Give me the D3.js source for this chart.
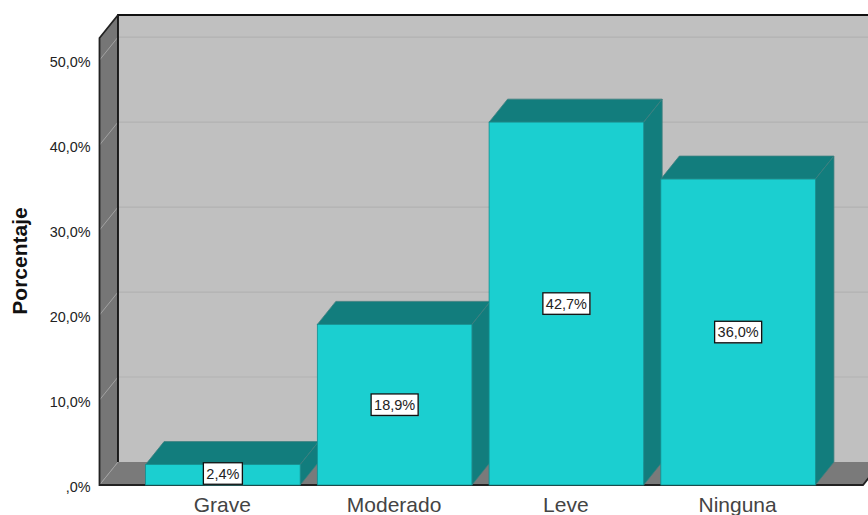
<!DOCTYPE html>
<html><head><meta charset="utf-8">
<script src="https://cdn.jsdelivr.net/npm/d3@7"></script>
<style>html,body{margin:0;padding:0;background:#fff;overflow:hidden}svg{display:block}</style>
</head><body><svg id="c" width="868" height="515"></svg>
<script>
const categories = ["Grave","Moderado","Leve","Ninguna"];
const values = [2.4,18.9,42.7,36.0];
const valueLabels = ["2,4%","18,9%","42,7%","36,0%"];
const tickValues = [0,10,20,30,40,50];
const tickLabels = [",0%","10,0%","20,0%","30,0%","40,0%","50,0%"];
const yTitle = "Porcentaje";

const svg = d3.select("#c");
const DX = 18.5, DY = -23;
const y = d3.scaleLinear().domain([0,52.6]).range([485,38]);
const x = d3.scaleBand().domain(categories).range([137,824]).paddingInner(0.1).paddingOuter(0.05);
const L = 99.5, R = 863;
const Y0 = y(0), YT = y(52.6);
const poly = pts => pts.map(p=>p.join(",")).join(" ");
const FF = "'Liberation Sans',Arial,sans-serif";

// walls
svg.append("polygon").attr("points",poly([[L+DX,YT+DY],[R+DX,YT+DY],[R+DX,Y0+DY],[L+DX,Y0+DY]])).attr("fill","#c0c0c0");
svg.append("polygon").attr("points",poly([[L,YT],[L+DX,YT+DY],[L+DX,Y0+DY],[L,Y0]])).attr("fill","#767676");
svg.append("polygon").attr("points",poly([[L,Y0],[L+DX,Y0+DY],[R+DX,Y0+DY],[R,Y0]])).attr("fill","#7a7a7a");

// gridlines
tickValues.forEach(t=>{
  if(t>0) svg.append("line").attr("x1",L+DX).attr("x2",R+DX).attr("y1",y(t)+DY).attr("y2",y(t)+DY).attr("stroke","#b2b2b2").attr("stroke-width",1.2);
  svg.append("line").attr("x1",L).attr("x2",L+DX).attr("y1",y(t)).attr("y2",y(t)+DY).attr("stroke","#a2a2a2").attr("stroke-width",1);
});

// wall edges
const edge = (p,c,w)=>svg.append("polyline").attr("points",poly(p)).attr("fill","none").attr("stroke",c).attr("stroke-width",w);
edge([[L+DX,Y0+DY],[L+DX,YT+DY],[R+DX,YT+DY]],"#111",1.8);
edge([[L+DX,YT+DY],[L,YT],[L,Y0],[R,Y0],[R+DX,Y0+DY]],"#222",1.8);

// bars
const g = svg.append("g").selectAll("g").data(categories).join("g");
g.each(function(c,i){
  const s = d3.select(this), a = x(c), b = a+x.bandwidth(), t = y(values[i]);
  s.append("polygon").attr("points",poly([[a,t],[a+DX,t+DY],[b+DX,t+DY],[b,t]])).attr("fill","#127d7d").attr("stroke","#3f7f7f").attr("stroke-width",.8);
  s.append("polygon").attr("points",poly([[b,t],[b+DX,t+DY],[b+DX,Y0+DY],[b,Y0]])).attr("fill","#127d7d").attr("stroke","#3f7f7f").attr("stroke-width",.8);
  s.append("rect").attr("x",a).attr("y",t).attr("width",b-a).attr("height",Y0-t).attr("fill","#1bcfd0").attr("stroke","#128f90").attr("stroke-width",.8);
});

// value labels
const lab = svg.append("g");
categories.forEach((c,i)=>{
  const cx = x(c)+x.bandwidth()/2, cy = Math.min((y(values[i])+Y0)/2, 473.5);
  const w = i===0 ? 39 : 47, h = 21.5;
  lab.append("rect").attr("x",cx-w/2+1).attr("y",cy-h/2+1).attr("width",w).attr("height",h).attr("fill","#8f8f8f").attr("opacity",.5);
  lab.append("rect").attr("x",cx-w/2).attr("y",cy-h/2).attr("width",w).attr("height",h).attr("fill","#fff").attr("stroke","#111").attr("stroke-width",1.3);
  lab.append("text").attr("x",cx).attr("y",cy+5).attr("text-anchor","middle").attr("font-family",FF).attr("font-size",14.5).attr("fill","#222").text(valueLabels[i]);
});

// y tick labels
tickValues.forEach((t,i)=>{
  svg.append("text").attr("x",90.5).attr("y",y(t)+7).attr("text-anchor","end").attr("font-family",FF).attr("font-size",14.4).attr("fill","#222").text(tickLabels[i]);
});

// category labels
categories.forEach(c=>{
  svg.append("text").attr("x",x(c)+x.bandwidth()/2-0.5).attr("y",512).attr("text-anchor","middle").attr("font-family",FF).attr("font-size",21).attr("fill","#444").text(c);
});

// y title
svg.append("text").attr("transform","translate(27,261) rotate(-90)").attr("text-anchor","middle").attr("font-family",FF).attr("font-weight","bold").attr("font-size",21).attr("fill","#111").text(yTitle);
</script></body></html>
